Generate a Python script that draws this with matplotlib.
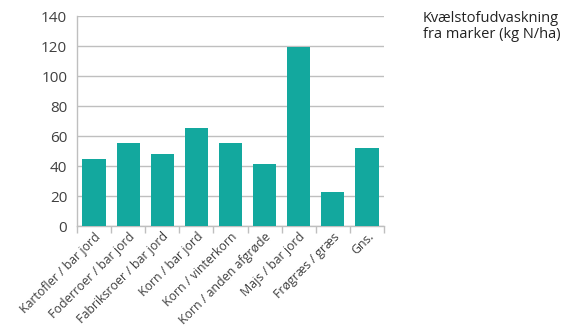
import matplotlib.pyplot as plt

categories = ["Kartofler / bar jord", "Foderroer / bar jord", "Fabriksroer / bar jord",
              "Korn / bar jord", "Korn / vinterkorn", "Korn / anden afgrøde",
              "Majs / bar jord", "Frøgræs / græs", "Gns."]
values = [45, 55.5, 48, 65.5, 55.5, 41.5, 119.5, 23, 52]
yticks = [0, 20, 40, 60, 80, 100, 120, 140]

plt.rcParams['font.family'] = ['Open Sans', 'DejaVu Sans']
text_color = '#404040'
grid_color = '#bfbfbf'

fig = plt.figure(figsize=(5.75, 3.3), dpi=100)
ax = fig.add_axes([77 / 575, 1 - 226 / 330, (384 - 77) / 575, (226 - 16) / 330])

x = list(range(len(categories)))
ax.bar(x, values, width=0.68, color='#13a89e', zorder=3)

ax.set_ylim(0, 140)
ax.set_xlim(-0.5, len(categories) - 0.5)
ax.set_yticks(yticks)
ax.yaxis.grid(True, color=grid_color, linewidth=1, zorder=0)
ax.tick_params(axis='y', length=0, labelsize=11, labelcolor=text_color, pad=7)

ax.set_xticks(x)
ax.set_xticklabels(categories, rotation=45, ha='right', rotation_mode='anchor',
                   fontsize=8.9, color=text_color)
ax.tick_params(axis='x', length=0, pad=3)
# boundary tick marks between categories
ax.set_xticks([i - 0.5 for i in range(len(categories) + 1)], minor=True)
ax.tick_params(axis='x', which='minor', length=5, color=grid_color, width=1)

for side in ['top', 'right']:
    ax.spines[side].set_visible(False)
for side in ['left', 'bottom']:
    ax.spines[side].set_color(grid_color)
    ax.spines[side].set_linewidth(1)

fig.text(423 / 575, 1 - 11 / 330, "Kvælstofudvaskning\nfra marker (kg N/ha)",
         fontsize=10.5, color='#222222', va='top', ha='left', linespacing=1.05)

fig.savefig("out.png", dpi=100)
plt.close(fig)
